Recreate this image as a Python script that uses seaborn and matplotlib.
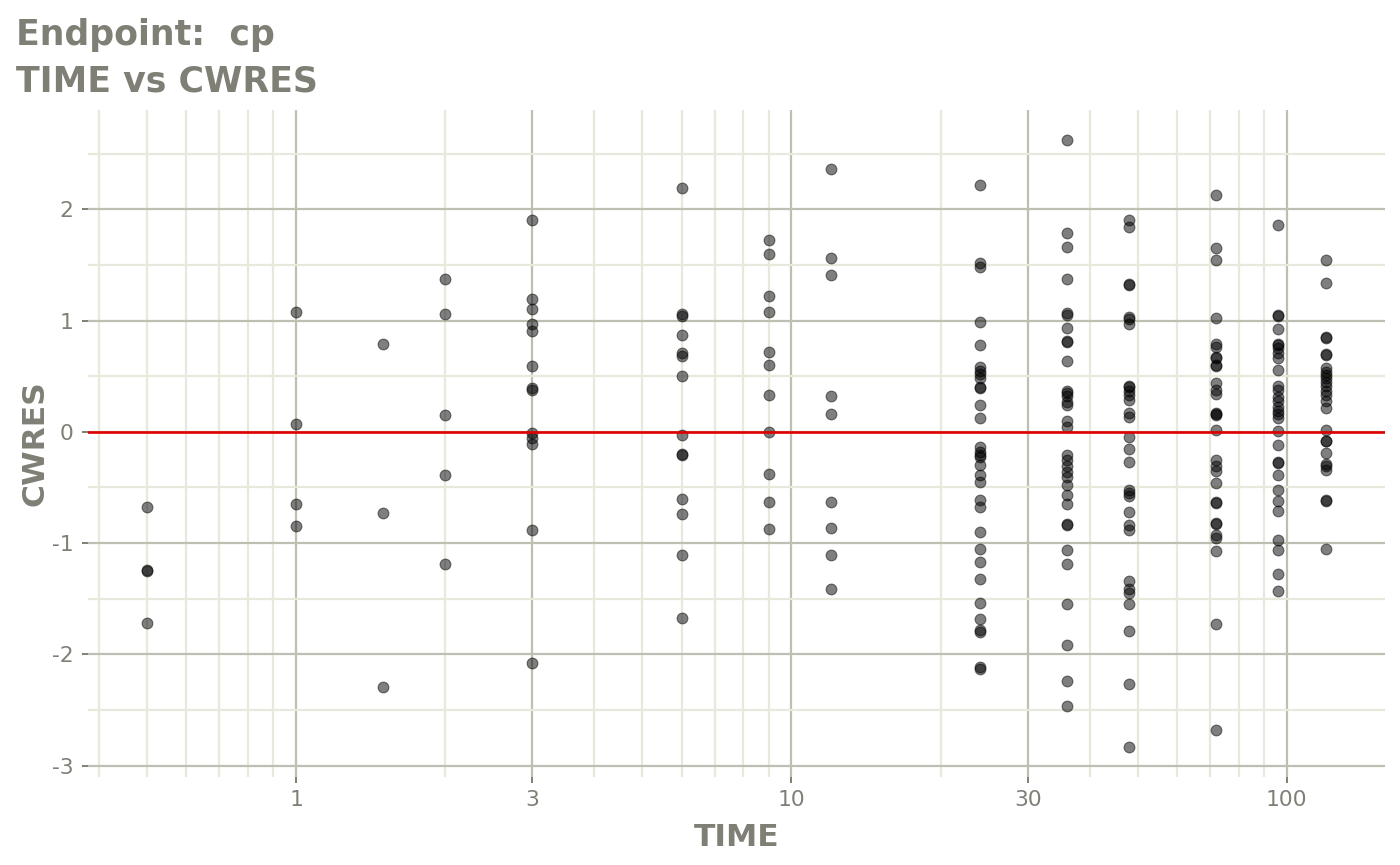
import numpy as np
import pandas as pd
import matplotlib
matplotlib.use("Agg")
import matplotlib.pyplot as plt
from matplotlib.ticker import FixedLocator, FixedFormatter, NullFormatter
import seaborn as sns

# ---- data (CWRES by sampling TIME) ----
times = [0.5, 1, 1.5, 2, 3, 6, 9, 12, 24, 36, 48, 72, 96, 120]

cwres_t0_5 = [-0.68, -1.24, -1.25, -1.72]
cwres_t1 = [1.08, 0.07, -0.65, -0.85]
cwres_t1_5 = [0.79, -0.73, -2.29]
cwres_t2 = [1.37, 1.06, 0.15, -0.39, -1.19]
cwres_t3 = [1.90, 1.19, 1.10, 0.97, 0.91, 0.59, 0.39, 0.38, -0.01, -0.06,
            -0.11, -0.88, -2.08]
cwres_t6 = [2.19, 1.06, 1.04, 0.87, 0.71, 0.68, 0.50, -0.03, -0.20, -0.21,
            -0.60, -0.74, -1.11, -1.67]
cwres_t9 = [1.72, 1.60, 1.22, 1.08, 0.72, 0.60, 0.33, 0.00, -0.38, -0.63, -0.87]
cwres_t12 = [2.36, 1.56, 1.41, 0.32, 0.16, -0.63, -0.86, -1.11, -1.41]
cwres_t24 = [2.22, 1.52, 1.48, 0.99, 0.78, 0.58, 0.55, 0.52, 0.48, 0.40,
             0.39, 0.24, 0.12, -0.14, -0.18, -0.21, -0.23, -0.30, -0.39, -0.45,
             -0.61, -0.68, -0.90, -1.05, -1.17, -1.32, -1.54, -1.68, -1.78,
             -1.80, -2.11, -2.13]
cwres_t36 = [2.62, 1.79, 1.66, 1.37, 1.07, 1.05, 0.93, 0.82, 0.81, 0.64,
             0.37, 0.35, 0.32, 0.27, 0.24, 0.10, 0.04, -0.21, -0.25, -0.31,
             -0.36, -0.41, -0.48, -0.57, -0.65, -0.83, -0.84, -1.06, -1.19,
             -1.55, -1.92, -2.24, -2.46]
cwres_t48 = [1.90, 1.84, 1.33, 1.32, 1.03, 1.01, 0.97, 0.41, 0.40, 0.37,
             0.33, 0.29, 0.17, 0.13, -0.05, -0.15, -0.27, -0.52, -0.55, -0.58,
             -0.72, -0.84, -0.88, -1.34, -1.41, -1.45, -1.55, -1.79, -2.27,
             -2.83]
cwres_t72 = [2.13, 1.65, 1.54, 1.02, 0.79, 0.76, 0.67, 0.66, 0.60, 0.59,
             0.44, 0.38, 0.34, 0.17, 0.16, 0.15, 0.02, -0.25, -0.31, -0.35,
             -0.46, -0.63, -0.64, -0.82, -0.83, -0.93, -0.95, -1.07, -1.73,
             -2.68]
cwres_t96 = [1.86, 1.05, 1.04, 0.92, 0.79, 0.78, 0.75, 0.71, 0.66, 0.56,
             0.41, 0.38, 0.31, 0.28, 0.22, 0.19, 0.16, 0.12, 0.01, -0.12,
             -0.27, -0.28, -0.39, -0.52, -0.62, -0.71, -0.97, -1.06, -1.28,
             -1.43]
cwres_t120 = [1.54, 1.34, 0.85, 0.84, 0.70, 0.69, 0.57, 0.54, 0.51, 0.48,
              0.45, 0.41, 0.37, 0.33, 0.28, 0.21, 0.02, -0.08, -0.08, -0.19,
              -0.29, -0.31, -0.34, -0.61, -0.62, -1.05]

cwres_by_time = [cwres_t0_5, cwres_t1, cwres_t1_5, cwres_t2, cwres_t3, cwres_t6,
                 cwres_t9, cwres_t12, cwres_t24, cwres_t36, cwres_t48,
                 cwres_t72, cwres_t96, cwres_t120]

x_breaks = [1, 3, 10, 30, 100]
x_labels = ["1", "3", "10", "30", "100"]
x_minor = [0.4, 0.5, 0.6, 0.7, 0.8, 0.9, 2, 4, 5, 6, 7, 8, 9,
           20, 40, 50, 60, 70, 80, 90]
y_breaks = [-3, -2, -1, 0, 1, 2]
y_minor = [-2.5, -1.5, -0.5, 0.5, 1.5, 2.5]

df = pd.DataFrame({
    "TIME": np.repeat(times, [len(v) for v in cwres_by_time]),
    "CWRES": np.concatenate(cwres_by_time),
})

# ---- style ----
sns.set_style("white")
plt.rcParams["font.family"] = ["DejaVu Sans"]
plt.rcParams["axes.unicode_minus"] = False  # plain hyphen like the original

txt_col = "#7f7f76"
major_col = "#bebeb2"
minor_col = "#e8e8dc"

W, H = 1400, 865
fig = plt.figure(figsize=(W / 100, H / 100), dpi=100)
ax = fig.add_axes([88 / W, 1 - 777 / H, (1385 - 88) / W, (777 - 110) / H])

sns.scatterplot(data=df, x="TIME", y="CWRES", ax=ax, color="black",
                alpha=0.5, s=60, edgecolor="black", linewidth=0.8, zorder=3)
ax.axhline(0, color="#e00000", lw=1.9, zorder=4)

# ggplot-like 5% expansion
ax.set_xscale("log")
lx = np.log10([min(times), max(times)])
px = 0.05 * (lx[1] - lx[0])
ax.set_xlim(10 ** (lx[0] - px), 10 ** (lx[1] + px))
ymin, ymax = df["CWRES"].min(), df["CWRES"].max()
py = 0.05 * (ymax - ymin)
ax.set_ylim(ymin - py, ymax + py)

ax.xaxis.set_major_locator(FixedLocator(x_breaks))
ax.xaxis.set_major_formatter(FixedFormatter(x_labels))
ax.xaxis.set_minor_locator(FixedLocator(x_minor))
ax.xaxis.set_minor_formatter(NullFormatter())
ax.yaxis.set_major_locator(FixedLocator(y_breaks))
ax.yaxis.set_minor_locator(FixedLocator(y_minor))

ax.set_axisbelow(True)
ax.grid(which="minor", color=minor_col, lw=1.6, zorder=0)
ax.grid(which="major", color=major_col, lw=1.6, zorder=1)
for s in ax.spines.values():
    s.set_visible(False)

ax.tick_params(which="major", length=4.3, width=1.4, color="#7f7f76",
               labelcolor=txt_col, labelsize=15.7)
ax.tick_params(axis="x", which="major", pad=5, bottom=True)
ax.tick_params(axis="y", which="major", pad=6, left=True)
ax.tick_params(which="minor", length=0)

ax.set_xlabel("TIME", fontsize=22.6, fontweight="bold", color=txt_col)
ax.set_ylabel("CWRES", fontsize=22.6, fontweight="bold", color=txt_col)
ax.xaxis.set_label_coords(0.5, -0.069)
ax.yaxis.set_label_coords(-0.0297, 0.5)

fig.text(16 / W, 1 - 45 / H, "Endpoint:  cp", fontsize=25, fontweight="bold",
         color=txt_col, va="baseline", ha="left")
fig.text(16 / W, 1 - 91 / H, "TIME vs CWRES", fontsize=25, fontweight="bold",
         color=txt_col, va="baseline", ha="left")

fig.savefig("out.png", dpi=100, facecolor="white")
